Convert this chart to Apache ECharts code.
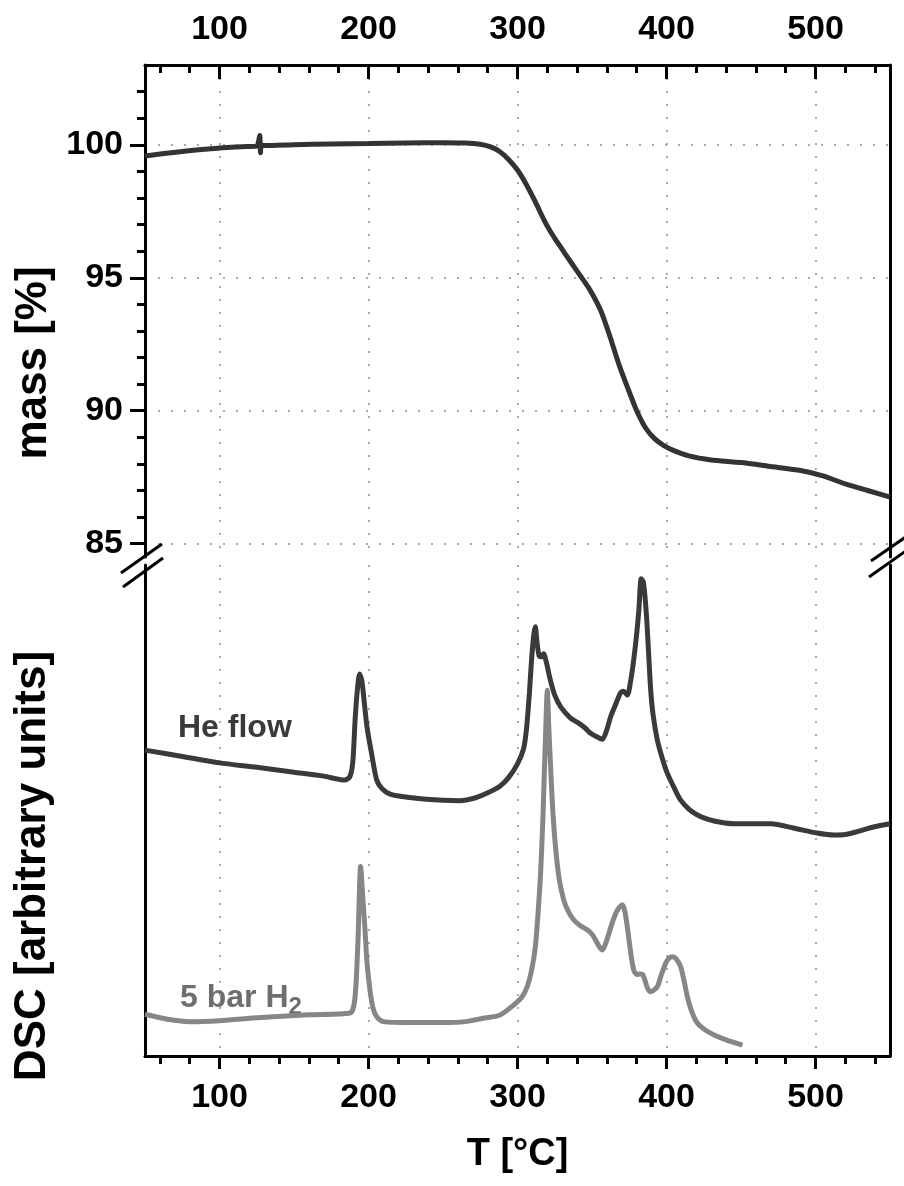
<!DOCTYPE html>
<html><head><meta charset="utf-8">
<script src="https://cdn.jsdelivr.net/npm/echarts@6/dist/echarts.min.js"></script>
<style>html,body{margin:0;padding:0;background:#fff}#c{width:904px;height:1186px}</style>
</head><body><div id="c"></div>
<script>
// ---- data ----
const tempTicks = [100, 200, 300, 400, 500];
const tempMinorTicks = [60, 80, 120, 140, 160, 180, 220, 240, 260, 280, 320, 340, 360, 380, 420, 440, 460, 480, 520, 540];
const massTicks = [85, 90, 95, 100];
const massMinorTicks = [86, 87, 88, 89, 91, 92, 93, 94, 96, 97, 98, 99, 101, 102];

const massT = [50, 60, 75, 90, 100, 115, 125, 127, 127.5, 128, 130, 150, 175, 200, 225, 250, 265, 275, 282, 288, 294, 300, 306, 312, 318, 322, 326, 332, 340, 348, 356, 362, 368, 374, 380, 386, 392, 398, 405, 415, 430, 450, 470, 490, 505, 520, 535, 550];
const massVal = [99.58, 99.65, 99.75, 99.83, 99.88, 99.93, 99.95, 100.35, 99.7, 99.97, 99.97, 100.0, 100.03, 100.05, 100.07, 100.08, 100.07, 100.02, 99.92, 99.75, 99.45, 99.05, 98.5, 97.85, 97.15, 96.75, 96.4, 95.9, 95.25, 94.6, 93.75, 92.8, 91.75, 90.85, 90.0, 89.35, 88.95, 88.7, 88.5, 88.3, 88.15, 88.05, 87.9, 87.75, 87.55, 87.25, 87.0, 86.75];

const heT = [50, 75, 100, 125, 150, 170, 184, 187.5, 189.5, 191, 192.5, 194, 195.5, 197, 199, 202, 205.5, 209, 215, 232, 250, 261, 272, 280, 288, 294, 300, 304, 306, 308, 309.5, 311, 312, 313, 314.5, 316, 317.5, 319.5, 322, 325, 329, 335.6, 341, 345, 348, 352, 357, 360, 362.5, 366, 369, 371, 373.7, 376, 378, 380, 381.5, 383, 384.5, 386.5, 388, 389.4, 391, 393.8, 397, 400.5, 405, 409.5, 415, 420.7, 428, 436.4, 445, 455, 470, 485.7, 501, 512.5, 520, 528, 539.5, 550];
const heVal = [62.3, 61.0, 59.7, 58.8, 57.8, 57.0, 56.2, 56.9, 60, 68.4, 74.5, 77.8, 76.5, 72.5, 67, 61.7, 56.2, 54.5, 53.3, 52.5, 52.1, 52.0, 52.6, 53.6, 54.9, 56.7, 59.5, 62.5, 66.5, 74, 81, 86, 87.4, 84.5, 81.5, 81.3, 81.9, 80.0, 76.6, 73.5, 71.1, 68.8, 67.8, 66.9, 66.0, 65.2, 64.5, 66.5, 69.1, 71.7, 73.9, 74.3, 73.5, 76.5, 80.7, 86, 91, 97.2, 96.5, 90, 82, 74.5, 69.5, 64.4, 60.8, 57.6, 54.7, 52.1, 50.3, 49.1, 48.2, 47.6, 47.3, 47.3, 47.3, 46.4, 45.4, 45.0, 45.1, 45.7, 46.7, 47.3];

const h2T = [50, 65, 80, 100, 120, 136, 160, 187.6, 190, 191.5, 193, 194.7, 196, 197.6, 199, 201, 203, 205.5, 210, 230, 250, 265, 277, 288, 297.5, 303, 306.5, 309.5, 312, 314, 315.5, 317, 318, 319, 320, 321, 322, 323.5, 325.5, 328, 331, 334, 337.8, 342, 346.8, 350, 352.4, 355, 357, 359, 361.4, 364, 367, 370.3, 372, 373.7, 376, 378, 380, 382, 384, 385.5, 387, 389, 391, 393.8, 396.5, 399.5, 402, 404, 406.5, 409.5, 412, 414, 417, 420.7, 426, 432, 440, 451];
const h2Val = [8.5, 7.5, 7.0, 7.2, 7.7, 8.0, 8.4, 8.75, 10, 14, 24, 38.6, 33, 26, 19, 13.4, 9.8, 8.0, 7.0, 6.8, 6.8, 7.0, 7.7, 8.3, 10.4, 12, 14.1, 17.5, 22.3, 30, 37.2, 48, 57.6, 67, 74.5, 67, 60.3, 51, 42.6, 36, 31.8, 29.5, 27.7, 26.6, 25.7, 24.8, 23.6, 22.2, 21.6, 22.8, 25, 27.5, 29.7, 30.8, 29.5, 26.3, 21, 17.5, 16.6, 16.7, 16.6, 15.5, 14, 13.1, 13.3, 14.1, 16.5, 18.9, 20.0, 20.2, 19.8, 18.2, 15, 12.1, 9, 6.7, 5.3, 4.3, 3.3, 2.2];

// ---- chart ----
const FONT = "'Liberation Sans', Arial, Helvetica, sans-serif";
const axisLineStyle = { color: '#000', width: 3 };
const tickStyle = { color: '#000', width: 3 };
const gridDot = { color: '#aaaaaa', width: 2, type: [2, 11] };
const labelStyle = { fontSize: 34, fontWeight: 'bold', color: '#000', fontFamily: FONT };
const pair = (xs, ys) => xs.map((x, i) => [x, ys[i]]);

const chart = echarts.init(document.getElementById('c'), null, { renderer: 'canvas' });
chart.setOption({
  animation: false,
  backgroundColor: '#fff',
  grid: [
    { left: 145, right: 14, top: 65, height: 492 },
    { left: 145, right: 14, top: 565, height: 491 }
  ],
  xAxis: [
    { gridIndex: 0, type: 'value', position: 'top', min: 50, max: 550,
      axisLine: { show: true, onZero: false, lineStyle: axisLineStyle },
      axisTick: { show: true, inside: true, length: 14, lineStyle: tickStyle, customValues: tempTicks },
      axisLabel: Object.assign({ show: true, customValues: tempTicks, margin: 18 }, labelStyle),
      splitLine: { show: true, lineStyle: gridDot } },
    { gridIndex: 0, type: 'value', position: 'top', min: 50, max: 550,
      axisLine: { show: false, onZero: false },
      axisTick: { show: true, inside: true, length: 8, lineStyle: tickStyle, customValues: tempMinorTicks },
      axisLabel: { show: false }, splitLine: { show: false } },
    { gridIndex: 1, type: 'value', position: 'bottom', min: 50, max: 550,
      name: 'T [°C]', nameLocation: 'middle', nameGap: 80,
      nameTextStyle: { fontSize: 38, fontWeight: 'bold', color: '#000', fontFamily: FONT },
      axisLine: { show: true, onZero: false, lineStyle: axisLineStyle },
      axisTick: { show: true, inside: false, length: 13, lineStyle: tickStyle, customValues: tempTicks },
      axisLabel: Object.assign({ show: true, customValues: tempTicks, margin: 25 }, labelStyle),
      splitLine: { show: true, lineStyle: gridDot } },
    { gridIndex: 1, type: 'value', position: 'bottom', min: 50, max: 550,
      axisLine: { show: false, onZero: false },
      axisTick: { show: true, inside: false, length: 8, lineStyle: tickStyle, customValues: tempMinorTicks },
      axisLabel: { show: false }, splitLine: { show: false } }
  ],
  yAxis: [
    { gridIndex: 0, type: 'value', position: 'left', min: 84.5, max: 103,
      axisLine: { show: true, onZero: false, lineStyle: axisLineStyle },
      axisTick: { show: true, inside: false, length: 15, lineStyle: tickStyle, customValues: massTicks },
      axisLabel: Object.assign({ show: true, customValues: massTicks, margin: 22 }, labelStyle),
      splitLine: { show: true, lineStyle: gridDot } },
    { gridIndex: 0, type: 'value', position: 'left', min: 84.5, max: 103,
      axisLine: { show: false, onZero: false },
      axisTick: { show: true, inside: false, length: 8, lineStyle: tickStyle, customValues: massMinorTicks },
      axisLabel: { show: false }, splitLine: { show: false } },
    { gridIndex: 0, type: 'value', position: 'right', min: 84.5, max: 103,
      axisLine: { show: true, onZero: false, lineStyle: axisLineStyle },
      axisTick: { show: false }, axisLabel: { show: false }, splitLine: { show: false } },
    { gridIndex: 1, type: 'value', position: 'left', min: 0, max: 100,
      axisLine: { show: true, onZero: false, lineStyle: axisLineStyle },
      axisTick: { show: false }, axisLabel: { show: false }, splitLine: { show: false } },
    { gridIndex: 1, type: 'value', position: 'right', min: 0, max: 100,
      axisLine: { show: true, onZero: false, lineStyle: axisLineStyle },
      axisTick: { show: false }, axisLabel: { show: false }, splitLine: { show: false } }
  ],
  series: [
    { name: 'mass', type: 'line', xAxisIndex: 0, yAxisIndex: 0, data: pair(massT, massVal),
      showSymbol: false, smooth: 0.2, lineStyle: { color: '#333333', width: 5 }, z: 5 },
    { name: 'He flow', type: 'line', xAxisIndex: 2, yAxisIndex: 3, data: pair(heT, heVal),
      showSymbol: false, smooth: 0.25, lineStyle: { color: '#3a3a3a', width: 5 }, z: 5 },
    { name: '5 bar H2', type: 'line', xAxisIndex: 2, yAxisIndex: 3, data: pair(h2T, h2Val),
      showSymbol: false, smooth: 0.25, lineStyle: { color: '#868686', width: 5 }, z: 4 }
  ],
  graphic: [
    { type: 'line', shape: { x1: 121, y1: 573, x2: 162, y2: 544 }, style: { stroke: '#000', lineWidth: 3 }, z: 100 },
    { type: 'line', shape: { x1: 123, y1: 587, x2: 163, y2: 558 }, style: { stroke: '#000', lineWidth: 3 }, z: 100 },
    { type: 'line', shape: { x1: 871, y1: 561, x2: 910, y2: 534 }, style: { stroke: '#000', lineWidth: 3 }, z: 100 },
    { type: 'line', shape: { x1: 869, y1: 577, x2: 910, y2: 548 }, style: { stroke: '#000', lineWidth: 3 }, z: 100 },
    { type: 'text', x: 34, y: 363, rotation: Math.PI / 2,
      style: { text: 'mass [%]', fontSize: 44, fontWeight: 'bold', fill: '#000', fontFamily: FONT, align: 'center', verticalAlign: 'middle' } },
    { type: 'text', x: 33, y: 866, rotation: Math.PI / 2,
      style: { text: 'DSC [arbitrary units]', fontSize: 44, fontWeight: 'bold', fill: '#000', fontFamily: FONT, align: 'center', verticalAlign: 'middle' } },
    { type: 'text', x: 178, y: 728,
      style: { text: 'He flow', fontSize: 32, fontWeight: 'bold', fill: '#3a3a3a', fontFamily: FONT, align: 'left', verticalAlign: 'middle' } },
    { type: 'text', x: 180, y: 998,
      style: { text: '{a|5 bar H}{s|2}', fontFamily: FONT, align: 'left', verticalAlign: 'middle',
        rich: { a: { fontSize: 32, fontWeight: 'bold', fill: '#6e6e6e', fontFamily: FONT },
                s: { fontSize: 24, fontWeight: 'bold', fill: '#6e6e6e', fontFamily: FONT, padding: [18, 0, 0, 0] } } } }
  ]
});
</script></body></html>
